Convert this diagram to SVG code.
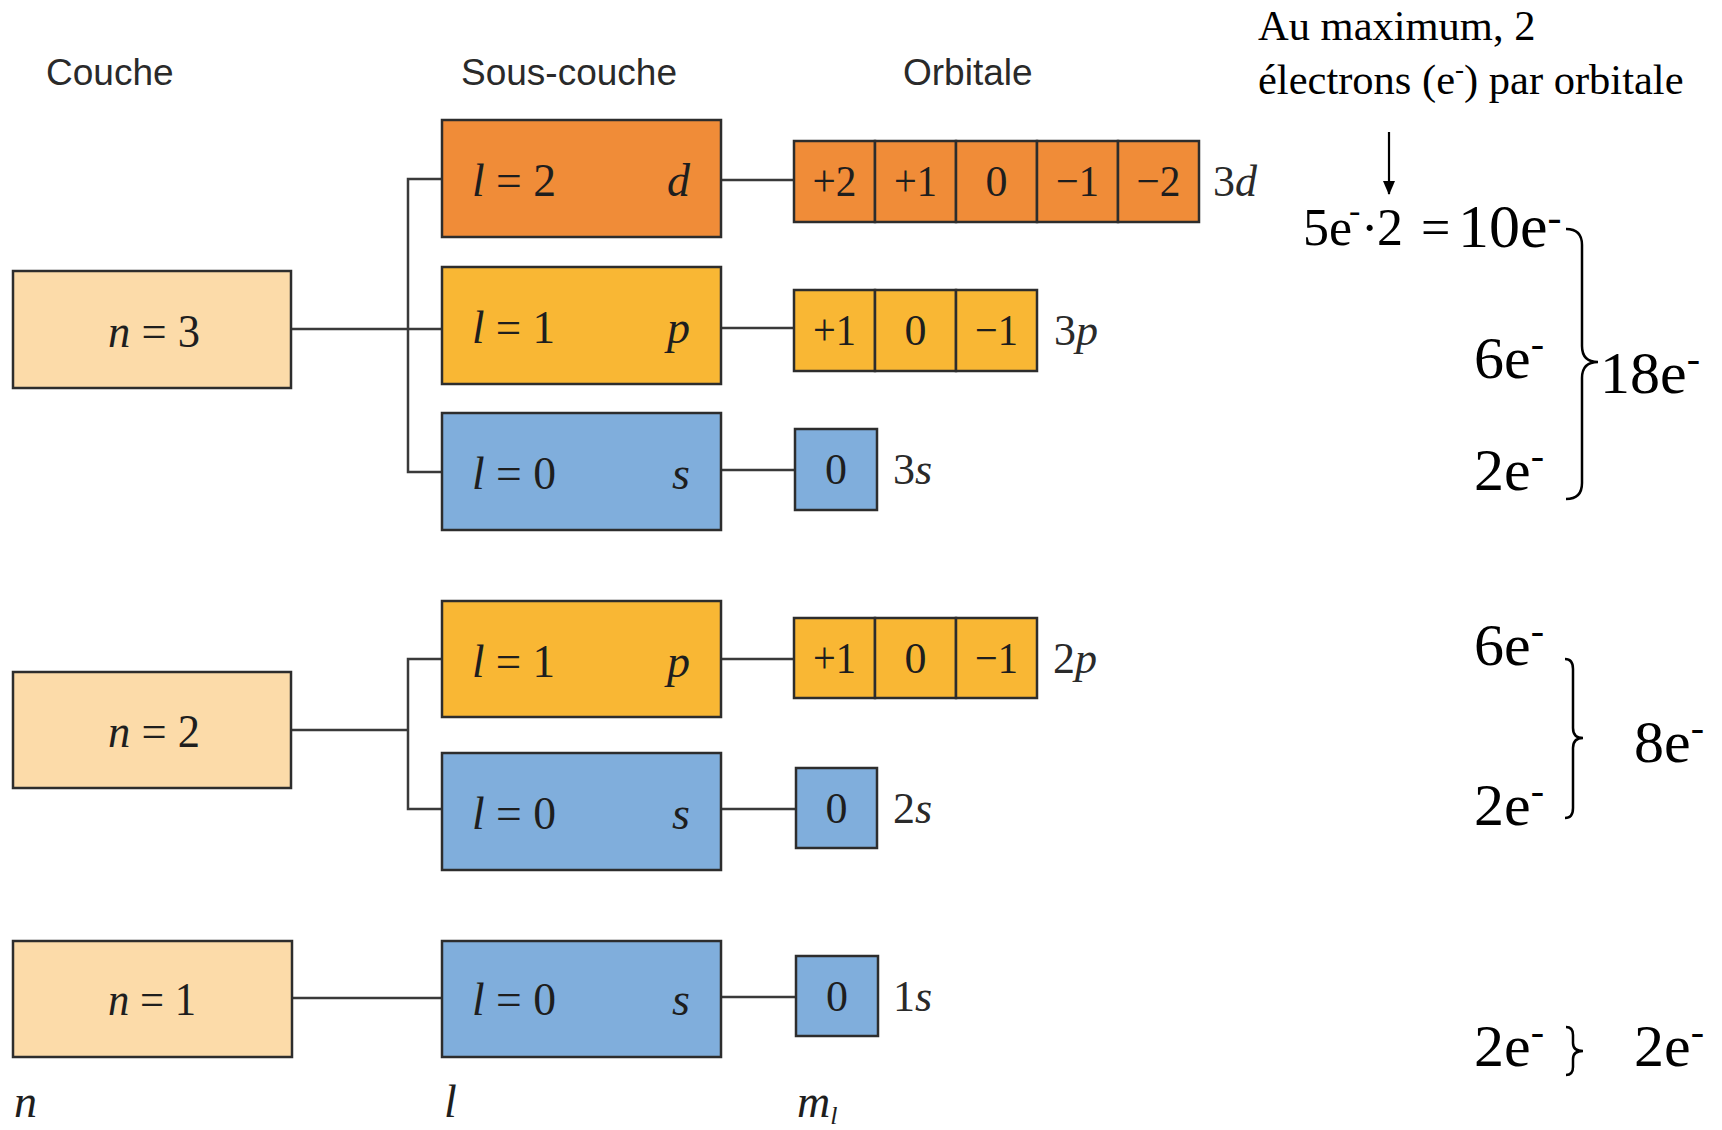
<svg xmlns="http://www.w3.org/2000/svg" width="1722" height="1130" viewBox="0 0 1722 1130">
<style>
.hdr{font-family:"Liberation Sans",Arial,sans-serif;font-size:37px;fill:#2a2a2a}
.lab{font-family:"Liberation Serif","Times New Roman",serif;font-size:46px;fill:#1e1e1e}
.num{font-family:"Liberation Serif","Times New Roman",serif;font-size:44px;fill:#1e1e1e;text-anchor:middle}
.olab{font-family:"Liberation Serif","Times New Roman",serif;font-size:44px;fill:#2a2a2a}
.rt{font-family:"Liberation Serif","Times New Roman",serif;fill:#000}
.it{font-style:italic}
.box{stroke:#2d2d2d;stroke-width:2.5}
.peach{fill:#FCDBA9}
.orange{fill:#F08C38}
.yellow{fill:#F9B734}
.blue{fill:#80AEDC}
.conn{stroke:#3a3a3a;stroke-width:2.5;fill:none}
.brace{stroke:#000;stroke-width:2.5;fill:none}
</style>
<defs>
<marker id="ah" markerUnits="userSpaceOnUse" markerWidth="14" markerHeight="12" refX="13" refY="6" orient="auto" viewBox="0 0 14 12">
<path d="M0,0 L14,6 L0,12 Z" fill="#000"/>
</marker>
</defs>

<g id="headers">
<text class="hdr" x="46" y="85">Couche</text>
<text class="hdr" x="461" y="85">Sous-couche</text>
<text class="hdr" x="903" y="85">Orbitale</text>
</g>

<g id="connectors">
<path class="conn" d="M291,329 H442"/>
<path class="conn" d="M442,179 H408 V472 H442"/>
<path class="conn" d="M291,730 H408"/>
<path class="conn" d="M442,659 H408 V809 H442"/>
<path class="conn" d="M292,998 H442"/>
<path class="conn" d="M721,180 H794"/>
<path class="conn" d="M721,328 H794"/>
<path class="conn" d="M721,470 H795"/>
<path class="conn" d="M721,659 H794"/>
<path class="conn" d="M721,809 H796"/>
<path class="conn" d="M721,997 H796"/>
</g>

<g id="n3">
<rect class="box peach" x="13" y="271" width="278" height="117"/>
<text class="lab" x="108" y="347" textLength="92" lengthAdjust="spacingAndGlyphs"><tspan class="it">n</tspan> = 3</text>
</g>
<g id="n2">
<rect class="box peach" x="13" y="672" width="278" height="116"/>
<text class="lab" x="108" y="747" textLength="92" lengthAdjust="spacingAndGlyphs"><tspan class="it">n</tspan> = 2</text>
</g>
<g id="n1">
<rect class="box peach" x="13" y="941" width="279" height="116"/>
<text class="lab" x="108" y="1015" textLength="88" lengthAdjust="spacingAndGlyphs"><tspan class="it">n</tspan> = 1</text>
</g>

<g id="l3d">
<rect class="box orange" x="442" y="120" width="279" height="117"/>
<text class="lab" x="472" y="196" textLength="84" lengthAdjust="spacingAndGlyphs"><tspan class="it">l</tspan> = 2</text>
<text class="lab it" x="690" y="196" text-anchor="end">d</text>
</g>
<g id="l3p">
<rect class="box yellow" x="442" y="267" width="279" height="117"/>
<text class="lab" x="472" y="343" textLength="83" lengthAdjust="spacingAndGlyphs"><tspan class="it">l</tspan> = 1</text>
<text class="lab it" x="690" y="343" text-anchor="end">p</text>
</g>
<g id="l3s">
<rect class="box blue" x="442" y="413" width="279" height="117"/>
<text class="lab" x="472" y="489" textLength="84" lengthAdjust="spacingAndGlyphs"><tspan class="it">l</tspan> = 0</text>
<text class="lab it" x="690" y="489" text-anchor="end">s</text>
</g>
<g id="l2p">
<rect class="box yellow" x="442" y="601" width="279" height="116"/>
<text class="lab" x="472" y="677" textLength="83" lengthAdjust="spacingAndGlyphs"><tspan class="it">l</tspan> = 1</text>
<text class="lab it" x="690" y="677" text-anchor="end">p</text>
</g>
<g id="l2s">
<rect class="box blue" x="442" y="753" width="279" height="117"/>
<text class="lab" x="472" y="829" textLength="84" lengthAdjust="spacingAndGlyphs"><tspan class="it">l</tspan> = 0</text>
<text class="lab it" x="690" y="829" text-anchor="end">s</text>
</g>
<g id="l1s">
<rect class="box blue" x="442" y="941" width="279" height="116"/>
<text class="lab" x="472" y="1015" textLength="84" lengthAdjust="spacingAndGlyphs"><tspan class="it">l</tspan> = 0</text>
<text class="lab it" x="690" y="1015" text-anchor="end">s</text>
</g>

<g id="o3d">
<rect class="box orange" x="794" y="141" width="81" height="81"/>
<rect class="box orange" x="875" y="141" width="81" height="81"/>
<rect class="box orange" x="956" y="141" width="81" height="81"/>
<rect class="box orange" x="1037" y="141" width="81" height="81"/>
<rect class="box orange" x="1118" y="141" width="81" height="81"/>
<text class="num" x="834.5" y="196" textLength="44" lengthAdjust="spacingAndGlyphs">+2</text>
<text class="num" x="915.5" y="196" textLength="43" lengthAdjust="spacingAndGlyphs">+1</text>
<text class="num" x="996.5" y="196">0</text>
<text class="num" x="1077.5" y="196" textLength="43" lengthAdjust="spacingAndGlyphs">−1</text>
<text class="num" x="1158.5" y="196" textLength="44" lengthAdjust="spacingAndGlyphs">−2</text>
<text class="olab" x="1213" y="196">3<tspan class="it">d</tspan></text>
</g>
<g id="o3p">
<rect class="box yellow" x="794" y="290" width="81" height="81"/>
<rect class="box yellow" x="875" y="290" width="81" height="81"/>
<rect class="box yellow" x="956" y="290" width="81" height="81"/>
<text class="num" x="834.5" y="345" textLength="43" lengthAdjust="spacingAndGlyphs">+1</text>
<text class="num" x="915.5" y="345">0</text>
<text class="num" x="996.5" y="345" textLength="43" lengthAdjust="spacingAndGlyphs">−1</text>
<text class="olab" x="1054" y="345">3<tspan class="it">p</tspan></text>
</g>
<g id="o3s">
<rect class="box blue" x="795" y="429" width="82" height="81"/>
<text class="num" x="836" y="484">0</text>
<text class="olab" x="893" y="484">3<tspan class="it">s</tspan></text>
</g>
<g id="o2p">
<rect class="box yellow" x="794" y="618" width="81" height="80"/>
<rect class="box yellow" x="875" y="618" width="81" height="80"/>
<rect class="box yellow" x="956" y="618" width="81" height="80"/>
<text class="num" x="834.5" y="673" textLength="43" lengthAdjust="spacingAndGlyphs">+1</text>
<text class="num" x="915.5" y="673">0</text>
<text class="num" x="996.5" y="673" textLength="43" lengthAdjust="spacingAndGlyphs">−1</text>
<text class="olab" x="1053" y="673">2<tspan class="it">p</tspan></text>
</g>
<g id="o2s">
<rect class="box blue" x="796" y="768" width="81" height="80"/>
<text class="num" x="836.5" y="823">0</text>
<text class="olab" x="893" y="823">2<tspan class="it">s</tspan></text>
</g>
<g id="o1s">
<rect class="box blue" x="796" y="956" width="82" height="80"/>
<text class="num" x="837" y="1011">0</text>
<text class="olab" x="893" y="1011">1<tspan class="it">s</tspan></text>
</g>

<g id="axis-labels">
<text class="lab it" x="14" y="1117" font-size="42">n</text>
<text class="lab it" x="444" y="1117" font-size="42">l</text>
<text class="lab it" x="797" y="1117" font-size="42">m<tspan font-size="26" dy="7">l</tspan></text>
</g>

<g id="note">
<text class="rt" x="1258" y="40" font-size="42.5">Au maximum, 2</text>
<text class="rt" x="1258" y="94" font-size="42.5">électrons (e<tspan font-size="27" dy="-16">-</tspan><tspan dy="16">) par orbitale</tspan></text>
<line x1="1389" y1="132" x2="1389" y2="194" stroke="#000" stroke-width="2.2" marker-end="url(#ah)"/>
</g>

<g id="calc3">
<text class="rt" x="1303" y="245" font-size="52">5e<tspan x="1349" font-size="34" dy="-23">-</tspan><tspan x="1361" dy="23">·</tspan><tspan x="1377">2</tspan><tspan x="1421">=</tspan></text>
<text class="rt" x="1458" y="247" font-size="62">10e<tspan font-size="42" dy="-16">-</tspan></text>
<text class="rt" x="1474" y="378" font-size="60">6e<tspan font-size="40" dy="-21">-</tspan></text>
<text class="rt" x="1474" y="490" font-size="60">2e<tspan font-size="40" dy="-21">-</tspan></text>
<path class="brace" d="M1566,229 Q1582,229 1582,245 L1582,346 Q1582,362 1598,362 Q1582,362 1582,378 L1582,483 Q1582,499 1566,499"/>
<text class="rt" x="1600" y="393" font-size="60">18e<tspan font-size="40" dy="-21">-</tspan></text>
</g>

<g id="calc2">
<text class="rt" x="1474" y="665" font-size="60">6e<tspan font-size="40" dy="-21">-</tspan></text>
<text class="rt" x="1474" y="825" font-size="60">2e<tspan font-size="40" dy="-21">-</tspan></text>
<path class="brace" d="M1565,659 Q1573,659 1573,669 L1573,728 Q1573,738 1583,738 Q1573,738 1573,748 L1573,808 Q1573,818 1565,818"/>
<text class="rt" x="1634" y="762" font-size="60">8e<tspan font-size="40" dy="-21">-</tspan></text>
</g>

<g id="calc1">
<text class="rt" x="1474" y="1066" font-size="60">2e<tspan font-size="40" dy="-21">-</tspan></text>
<path class="brace" d="M1566,1027 Q1573,1027 1573,1035 L1573,1043 Q1573,1051 1583,1051 Q1573,1051 1573,1059 L1573,1067 Q1573,1075 1566,1075"/>
<text class="rt" x="1634" y="1066" font-size="60">2e<tspan font-size="40" dy="-21">-</tspan></text>
</g>
</svg>
